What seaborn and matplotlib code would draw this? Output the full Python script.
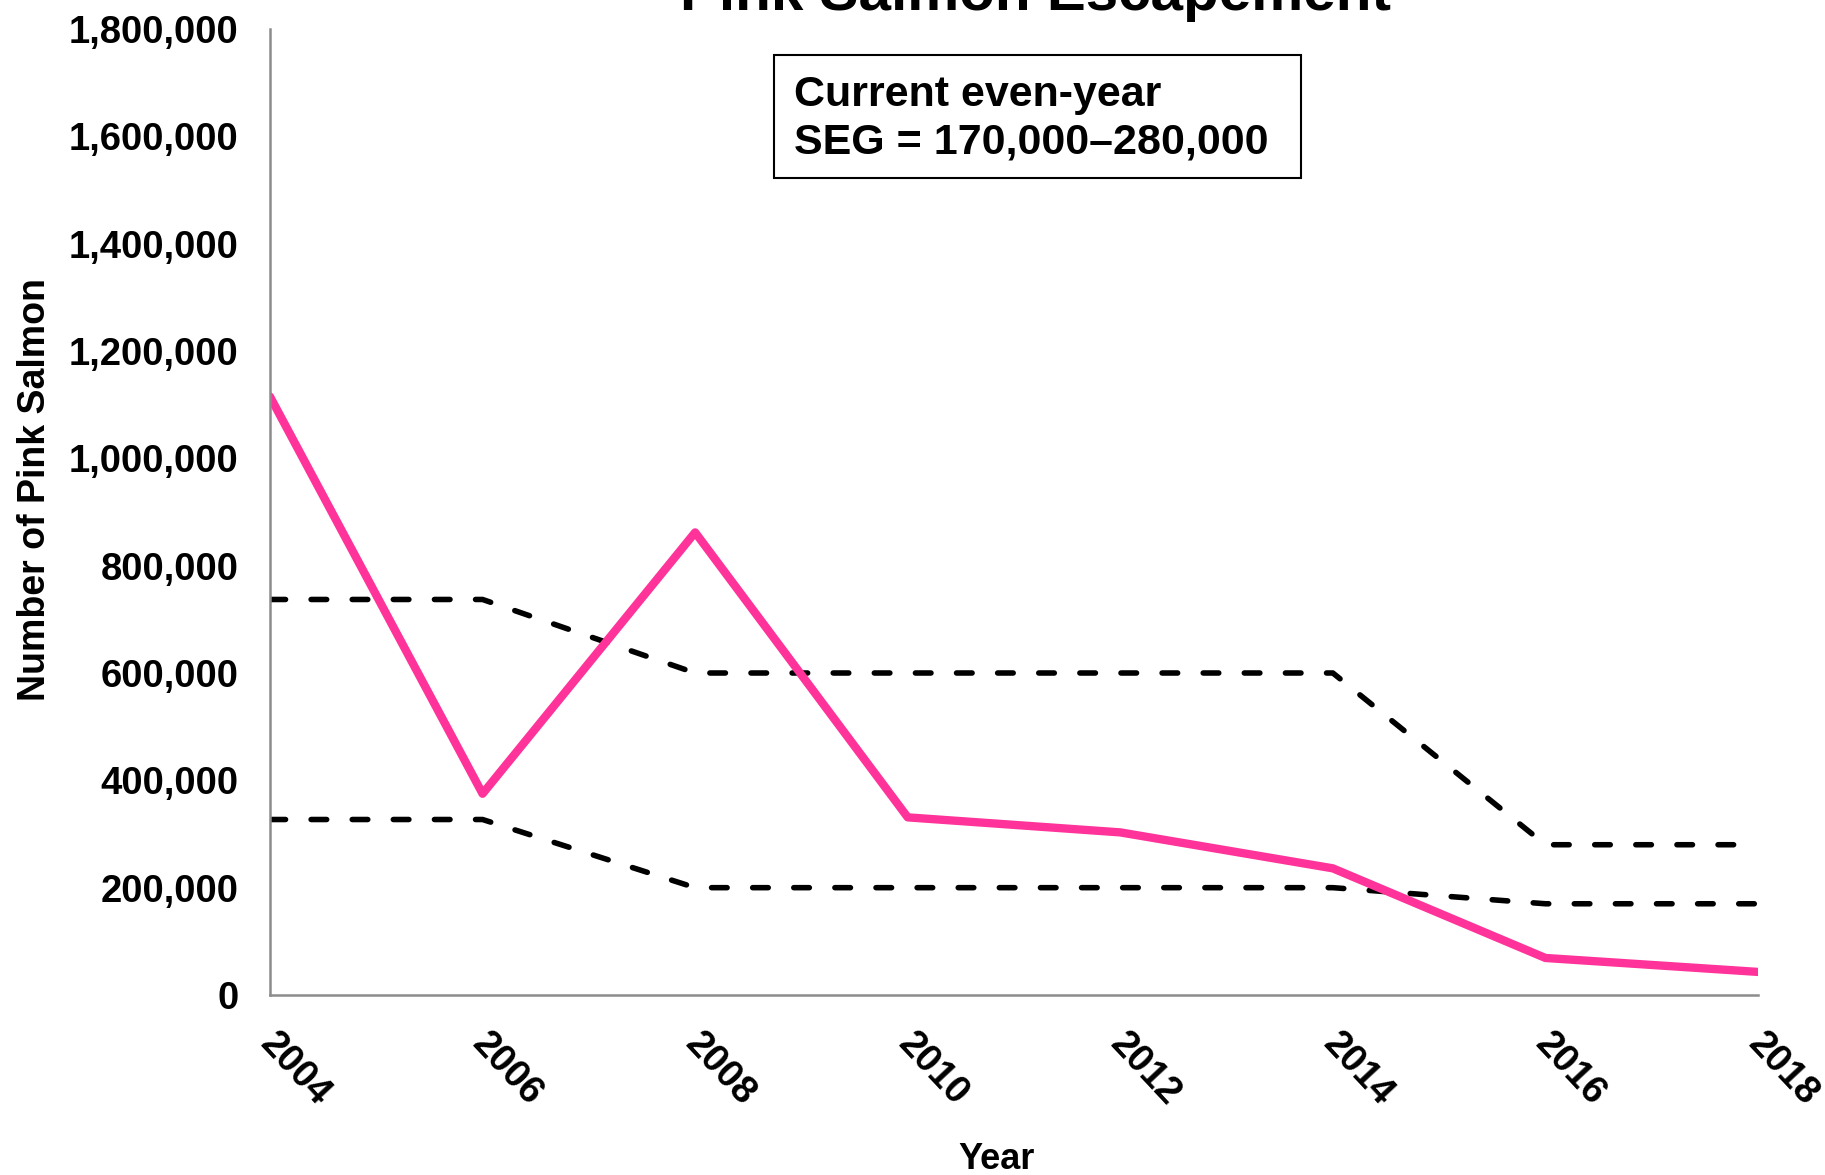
import matplotlib.pyplot as plt
import matplotlib.patches as mpatches
from matplotlib.ticker import FuncFormatter
from matplotlib.transforms import ScaledTranslation
import seaborn as sns

years = [2004, 2006, 2008, 2010, 2012, 2014, 2016, 2018]
escapement = [1115000, 375000, 862000, 331000, 303000, 236000, 69000, 43000]
seg_upper = [737000, 737000, 600000, 600000, 600000, 600000, 280000, 280000]
seg_lower = [327000, 327000, 200000, 200000, 200000, 200000, 170000, 170000]

title = "Pink Salmon Escapement"
box_text = "Current even-year\nSEG = 170,000\u2013280,000"

sns.set_theme(style="white")
plt.rcParams["font.family"] = ["Liberation Sans", "DejaVu Sans"]
plt.rcParams["font.weight"] = "bold"
plt.rcParams["text.color"] = "black"
plt.rcParams["axes.labelcolor"] = "black"

fig = plt.figure(figsize=(18.25, 11.75), dpi=100)
ax = fig.add_axes([270 / 1825, 1 - 995 / 1175, 1488 / 1825, 966 / 1175])

for vals in (seg_upper, seg_lower):
    sns.lineplot(x=years, y=vals, ax=ax, color="black", linewidth=4,
                 dash_capstyle="round", solid_capstyle="round")
    ax.lines[-1].set_linestyle((0, (2.8, 4.6)))
sns.lineplot(x=years, y=escapement, ax=ax, color="#FF3399", linewidth=6)

ax.set_xlim(2004, 2018)
ax.set_ylim(0, 1800000)
ax.set_xticks(years)
ax.set_yticks(range(0, 1800001, 200000))
ax.yaxis.set_major_formatter(FuncFormatter(lambda v, p: f"{v:,.0f}"))

for s in ("top", "right"):
    ax.spines[s].set_visible(False)
for s in ("left", "bottom"):
    ax.spines[s].set_color("#8c8c8c")
    ax.spines[s].set_linewidth(1.8)

ax.tick_params(axis="both", which="major", direction="out", length=8.5,
               width=1.8, color="#8c8c8c", labelcolor="black", labelsize=27.5)
ax.tick_params(axis="y", pad=14)
ax.tick_params(axis="x", pad=14)
shift = ScaledTranslation(9 / 100, 0, fig.dpi_scale_trans)
for lbl in ax.get_xticklabels():
    lbl.set_rotation(-47)
    lbl.set_ha("left")
    lbl.set_va("top")
    lbl.set_rotation_mode("anchor")
    lbl.set_transform(lbl.get_transform() + shift)
for lbl in ax.get_xticklabels() + ax.get_yticklabels():
    lbl.set_fontweight("bold")

ax.set_xlabel("Year", fontsize=26, fontweight="bold")
ax.set_ylabel("Number of Pink Salmon", fontsize=27, fontweight="bold")
ax.xaxis.set_label_coords(0.488, -0.152)
ax.yaxis.set_label_coords(-0.146, 0.523)

ax.add_patch(mpatches.Rectangle((0.3387, 0.8458), 0.354, 0.127, transform=ax.transAxes,
                                facecolor="white", edgecolor="black", linewidth=1.5,
                                zorder=5, clip_on=False))
ax.text(0.352, 0.907, box_text, transform=ax.transAxes, ha="left", va="center",
        fontsize=31, fontweight="bold", linespacing=1.25, zorder=6)

fig.text(1036 / 1825, 1 - 10 / 1175, title, ha="center", va="baseline",
         fontsize=42, fontweight="bold")

fig.savefig("out.png", dpi=100)
plt.close(fig)
